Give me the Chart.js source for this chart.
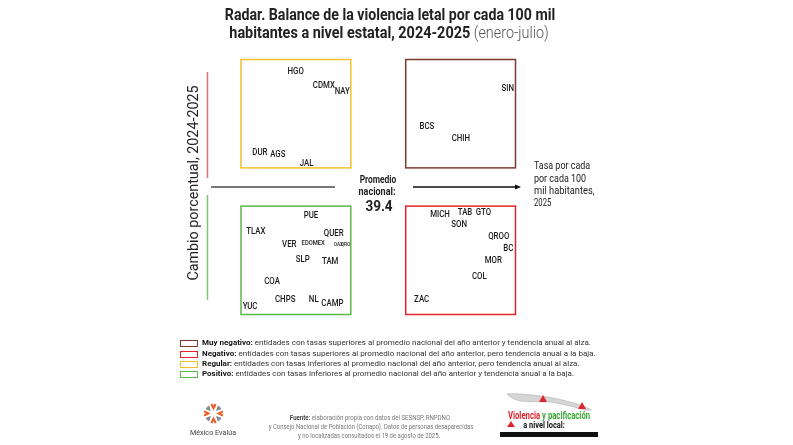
<!DOCTYPE html>
<html>
<head>
<meta charset="utf-8">
<script src="https://cdn.jsdelivr.net/npm/chart.js@4.4.1/dist/chart.umd.min.js"></script>
<style>
  html, body { margin: 0; padding: 0; background: #fff; }
  #wrap { position: relative; width: 793px; height: 445px; overflow: hidden; font-family: Roboto, "Noto Sans", sans-serif; color: #222; }
  #chart { position: absolute; left: 0; top: 0; }
  .t { position: absolute; white-space: nowrap; line-height: 1; transform-origin: center center; }
  .l { position: absolute; white-space: nowrap; line-height: 1; transform-origin: left center; }
  .box { position: absolute; width: 16px; height: 5px; border: 1.5px solid; }
</style>
</head>
<body>
<div id="wrap">
  <canvas id="chart" width="793" height="445"></canvas>

  <div class="t" style="left:390px;top:14px;font-size:17px;font-weight:700;" data-w="330">Radar. Balance de la violencia letal por cada 100 mil</div>
  <div class="t" style="left:388.5px;top:32px;font-size:17px;font-weight:700;" data-w="319">habitantes a nivel estatal, 2024-2025 <span style="font-weight:300;color:#555;">(enero-julio)</span></div>

  <div class="t" id="ytitle" style="left:193px;top:182.5px;font-size:14px;" data-w="195" data-rot="1">Cambio porcentual, 2024-2025</div>

  <div class="t" style="left:378px;top:180px;font-size:10px;font-weight:700;" data-w="37">Promedio</div>
  <div class="t" style="left:377px;top:192px;font-size:10px;font-weight:700;" data-w="37">nacional:</div>
  <div class="t" style="left:379px;top:205.5px;font-size:15px;font-weight:700;" data-w="27">39.4</div>

  <div class="l" style="left:534px;top:165px;font-size:11px;" data-w="56">Tasa por cada</div>
  <div class="l" style="left:534px;top:177.5px;font-size:11px;" data-w="52">por cada 100</div>
  <div class="l" style="left:534px;top:190px;font-size:11px;" data-w="61">mil habitantes,</div>
  <div class="l" style="left:534px;top:202px;font-size:11px;" data-w="17.5">2025</div>

  <span class="box" style="left:180px;top:340px;border-color:#7b3b2c;"></span>
  <div class="l" style="left:202px;top:343.3px;font-size:8px;color:#333;" data-w="389"><b style="color:#111;">Muy negativo:</b> entidades con tasas superiores al promedio nacional del año anterior y tendencia anual al alza.</div>
  <span class="box" style="left:180px;top:351px;border-color:#e0242c;"></span>
  <div class="l" style="left:202px;top:354.3px;font-size:8px;color:#333;" data-w="394"><b style="color:#111;">Negativo:</b> entidades con tasas superiores al promedio nacional del año anterior, pero tendencia anual a la baja.</div>
  <span class="box" style="left:180px;top:361px;border-color:#f2bf2f;"></span>
  <div class="l" style="left:202px;top:364.3px;font-size:8px;color:#333;" data-w="378"><b style="color:#111;">Regular:</b> entidades con tasas inferiores al promedio nacional del año anterior, pero tendencia anual al alza.</div>
  <span class="box" style="left:180px;top:371px;border-color:#58b947;"></span>
  <div class="l" style="left:202px;top:374.3px;font-size:8px;color:#333;" data-w="372.5"><b style="color:#111;">Positivo:</b> entidades con tasas inferiores al promedio nacional del año anterior y tendencia anual a la baja.</div>

  <svg style="position:absolute;left:203px;top:403px;" width="21" height="21" viewBox="-10 -10 20 20">
    <g fill="none" stroke-width="2">
      <path d="M-2,-9 L0,-5 L2,-9" stroke="#ef5a24"/>
      <path d="M-2,9 L0,5 L2,9" stroke="#ef5a24"/>
      <path d="M-9,-2 L-5,0 L-9,2" stroke="#ef5a24"/>
      <path d="M9,-2 L5,0 L9,2" stroke="#ef5a24"/>
      <path d="M-7,-5 L-4,-4 L-5,-7" stroke="#888"/>
      <path d="M7,-5 L4,-4 L5,-7" stroke="#888"/>
      <path d="M-7,5 L-4,4 L-5,7" stroke="#888"/>
      <path d="M7,5 L4,4 L5,7" stroke="#888"/>
    </g>
  </svg>
  <div class="t" style="left:213px;top:433px;font-size:8px;color:#444;" data-w="46">México Evalúa</div>

  <div class="t" style="left:370px;top:417.5px;font-size:6.5px;color:#777;" data-w="160"><b style="color:#444;">Fuente:</b> elaboración propia con datos del SESNSP, RNPDNO</div>
  <div class="t" style="left:371px;top:427px;font-size:6.5px;color:#777;" data-w="205">y Consejo Nacional de Población (Conapo). Datos de personas desaparecidas</div>
  <div class="t" style="left:369px;top:436px;font-size:6.5px;color:#777;" data-w="142">y no localizadas consultados el 19 de agosto de 2025.</div>

  <svg style="position:absolute;left:505px;top:392px;" width="90" height="22">
    <path d="M2,2 C12,1 24,3 36,4 C50,6 62,9 72,12 C78,14 83,16 86,18 L80,18 C70,15 58,12 46,10 C34,9 24,10 16,9 C10,8 5,5 2,2 Z" fill="#d6d6d6" stroke="#bbb" stroke-width="0.8"/>
    <path d="M34,10 L38,3 L42,10 Z" fill="#e0242c"/>
    <path d="M73,17 L77,10 L81,17 Z" fill="#e0242c"/>
  </svg>
  <div class="t" style="left:549px;top:415.5px;font-size:10px;font-weight:700;" data-w="82"><span style="color:#e0242c;">Violencia</span> <span style="color:#3aa935;">y pacificación</span></div>
  <svg style="position:absolute;left:506px;top:420px;" width="10" height="8"><path d="M1,7 L5,1 L9,7 Z" fill="#e0242c"/></svg>
  <div class="t" style="left:544px;top:425px;font-size:8.5px;font-weight:700;color:#111;" data-w="42">a nivel local:</div>
  <div style="position:absolute;left:500px;top:431.5px;width:98px;height:5px;background:#111;"></div>
</div>

<script>
// posiciones en el radar (0-100 en cada eje)
const states = ['HGO', 'CDMX', 'NAY', 'DUR', 'AGS', 'JAL', 'SIN', 'BCS', 'CHIH',
  'PUE', 'TLAX', 'QUER', 'VER', 'EDOMEX', 'OAX', 'QRO', 'SLP', 'TAM', 'COA', 'CHPS', 'NL', 'CAMP', 'YUC',
  'MICH', 'TAB', 'GTO', 'SON', 'QROO', 'BC', 'MOR', 'COL', 'ZAC'];
const rateX = [19.9, 30.2, 36.9, 6.9, 13.4, 23.9, 97.2, 67.7, 80.1,
  25.5, 5.4, 33.8, 17.6, 26.3, 35.5, 38.1, 22.5, 32.5, 11.3, 16.1, 26.5, 33.3, 3.3,
  72.5, 81.6, 88.3, 79.5, 93.9, 97.4, 91.9, 86.8, 65.8];
const changeY = [95.2, 89.7, 87.4, 63.5, 62.8, 59.3, 88.7, 73.6, 69.1,
  38.7, 32.4, 31.8, 27.5, 27.9, 27.6, 27.6, 21.4, 20.9, 13.1, 6.0, 6.0, 4.4, 3.1,
  39.0, 40.1, 40.1, 35.4, 30.5, 26.0, 21.1, 14.8, 5.7];

// cuadrantes: [xMin, xMax], [yMin, yMax]
const quadrantNames = ['Regular', 'Muy negativo', 'Positivo', 'Negativo'];
const quadrantX = [[0, 40], [60, 100], [0, 40], [60, 100]];
const quadrantY = [[57.5, 100], [57.5, 100], [0, 42.5], [0, 42.5]];
const quadrantColors = ['#f2bf2f', '#7b3b2c', '#58b947', '#e0242c'];

const smallLabels = { EDOMEX: 0.74, OAX: 0.6, QRO: 0.6 };

// ajustar anchos de texto (fuente condensada)
document.querySelectorAll('[data-w]').forEach(function (el) {
  const w = parseFloat(el.dataset.w);
  const k = w / el.scrollWidth;
  if (el.dataset.rot) {
    el.style.transform = 'translate(-50%,-50%) rotate(-90deg) scaleX(' + k + ')';
  } else if (el.classList.contains('l')) {
    el.style.transform = 'translate(0,-50%) scaleX(' + k + ')';
  } else {
    el.style.transform = 'translate(-50%,-50%) scaleX(' + k + ')';
  }
});

const radarPlugin = {
  id: 'radar',
  beforeDatasetsDraw(chart) {
    const ctx = chart.ctx;
    const x = chart.scales.x, y = chart.scales.y;
    ctx.save();
    ctx.lineWidth = 1.5;
    quadrantX.forEach(function (qx, i) {
      const qy = quadrantY[i];
      const l = x.getPixelForValue(qx[0]), r = x.getPixelForValue(qx[1]);
      const t = y.getPixelForValue(qy[1]), b = y.getPixelForValue(qy[0]);
      ctx.strokeStyle = quadrantColors[i];
      ctx.strokeRect(l, t, r - l, b - t);
    });

    // ejes de referencia
    const midY = (y.getPixelForValue(quadrantY[0][0]) + y.getPixelForValue(quadrantY[2][1])) / 2;
    ctx.strokeStyle = '#e8696e';
    ctx.beginPath(); ctx.moveTo(207.5, 72); ctx.lineTo(207.5, 178); ctx.stroke();
    ctx.strokeStyle = '#7cc576';
    ctx.beginPath(); ctx.moveTo(207.5, 195); ctx.lineTo(207.5, 300); ctx.stroke();
    ctx.strokeStyle = '#777';
    ctx.lineWidth = 2;
    ctx.beginPath(); ctx.moveTo(211, midY); ctx.lineTo(335, midY); ctx.stroke();
    ctx.strokeStyle = '#111';
    ctx.fillStyle = '#111';
    ctx.lineWidth = 1.3;
    ctx.beginPath(); ctx.moveTo(413, midY); ctx.lineTo(517, midY); ctx.stroke();
    ctx.beginPath(); ctx.moveTo(521, midY); ctx.lineTo(515, midY - 2.5); ctx.lineTo(515, midY + 2.5); ctx.closePath(); ctx.fill();
    ctx.restore();
  },
  afterDatasetsDraw(chart) {
    const ctx = chart.ctx;
    const meta = chart.getDatasetMeta(0);
    ctx.save();
    ctx.fillStyle = '#1a1a1a';
    ctx.textAlign = 'center';
    ctx.textBaseline = 'middle';
    meta.data.forEach(function (pt, i) {
      const k = smallLabels[states[i]] || 1;
      ctx.save();
      ctx.translate(pt.x, pt.y);
      ctx.scale(0.8, 1);
      ctx.font = '500 ' + (9.8 * k).toFixed(1) + 'px Roboto';
      ctx.fillText(states[i], 0, 0);
      ctx.restore();
    });
    ctx.restore();
  }
};

new Chart(document.getElementById('chart'), {
  type: 'scatter',
  data: {
    datasets: [{
      label: 'Entidades',
      data: states.map(function (s, i) { return { x: rateX[i], y: changeY[i] }; }),
      pointRadius: 0,
      pointHoverRadius: 0
    }]
  },
  options: {
    responsive: false,
    animation: false,
    layout: { padding: { left: 241, right: 277.5, top: 59.5, bottom: 130.5 } },
    plugins: { legend: { display: false }, tooltip: { enabled: false } },
    scales: {
      x: { display: false, min: 0, max: 100 },
      y: { display: false, min: 0, max: 100 }
    }
  },
  plugins: [radarPlugin]
});
</script>
</body>
</html>
